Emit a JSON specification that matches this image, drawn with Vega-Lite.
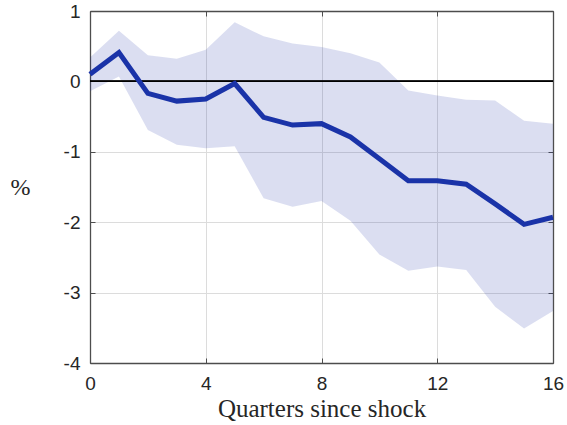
{
  "$schema": "https://vega.github.io/schema/vega-lite/v6.json",
  "width": 463,
  "height": 352,
  "autosize": {"type": "none"},
  "padding": {"left": 90, "top": 11, "right": 14, "bottom": 62},
  "background": "white",
  "config": {
    "view": {"stroke": null},
    "axis": {
      "domainColor": "#4d4d4d",
      "domainWidth": 1.3,
      "tickColor": "#4d4d4d",
      "tickSize": -5,
      "gridColor": "#dcdcdc",
      "gridWidth": 1,
      "labelFlush": false,
      "labelFont": "Liberation Sans",
      "labelFontSize": 19,
      "labelColor": "#262626",
      "titleFont": "Liberation Serif",
      "titleFontWeight": "normal",
      "titleFontSize": 25,
      "titleColor": "#262626"
    }
  },
  "data": {
    "values": [
      {"q": 0, "irf": 0.10, "lo": -0.14, "hi": 0.34},
      {"q": 1, "irf": 0.41, "lo": 0.07, "hi": 0.72},
      {"q": 2, "irf": -0.17, "lo": -0.69, "hi": 0.37},
      {"q": 3, "irf": -0.28, "lo": -0.90, "hi": 0.32},
      {"q": 4, "irf": -0.25, "lo": -0.95, "hi": 0.45},
      {"q": 5, "irf": -0.03, "lo": -0.92, "hi": 0.84},
      {"q": 6, "irf": -0.51, "lo": -1.66, "hi": 0.64},
      {"q": 7, "irf": -0.62, "lo": -1.78, "hi": 0.54},
      {"q": 8, "irf": -0.60, "lo": -1.70, "hi": 0.49},
      {"q": 9, "irf": -0.79, "lo": -1.98, "hi": 0.40},
      {"q": 10, "irf": -1.10, "lo": -2.46, "hi": 0.27},
      {"q": 11, "irf": -1.41, "lo": -2.69, "hi": -0.13},
      {"q": 12, "irf": -1.41, "lo": -2.63, "hi": -0.20},
      {"q": 13, "irf": -1.46, "lo": -2.68, "hi": -0.26},
      {"q": 14, "irf": -1.74, "lo": -3.20, "hi": -0.27},
      {"q": 15, "irf": -2.03, "lo": -3.51, "hi": -0.56},
      {"q": 16, "irf": -1.93, "lo": -3.26, "hi": -0.60}
    ]
  },
  "layer": [
    {
      "mark": {"type": "area", "color": "#1f33a8", "opacity": 0.16},
      "encoding": {
        "x": {
          "field": "q",
          "type": "quantitative",
          "scale": {"domain": [0, 16], "nice": false},
          "axis": {
            "values": [0, 4, 8, 12, 16],
            "labelPadding": 16,
            "title": "Quarters since shock",
            "titlePadding": 3
          }
        },
        "y": {
          "field": "lo",
          "type": "quantitative",
          "scale": {"domain": [-4, 1], "nice": false},
          "axis": {
            "values": [1, 0, -1, -2, -3, -4],
            "labelExpr": "'' + datum.value",
            "labelPadding": 15,
            "title": "%",
            "titleFontSize": 24,
            "titleAngle": 0,
            "titleAlign": "center",
            "titleBaseline": "middle",
            "titleX": -70,
            "titleY": 176
          }
        },
        "y2": {"field": "hi"}
      }
    },
    {
      "mark": {"type": "rule", "color": "black", "strokeWidth": 1},
      "encoding": {"y": {"datum": 0, "axis": null}}
    },
    {
      "mark": {"type": "line", "color": "#1a33a8", "strokeWidth": 5},
      "encoding": {
        "x": {
          "field": "q",
          "type": "quantitative",
          "axis": {"orient": "top", "values": [0, 4, 8, 12, 16], "labels": false, "grid": false, "title": null}
        },
        "y": {
          "field": "irf",
          "type": "quantitative",
          "axis": {"orient": "right", "values": [1, 0, -1, -2, -3, -4], "labels": false, "grid": false, "title": null}
        }
      }
    }
  ],
  "resolve": {"axis": {"x": "independent", "y": "independent"}}
}
